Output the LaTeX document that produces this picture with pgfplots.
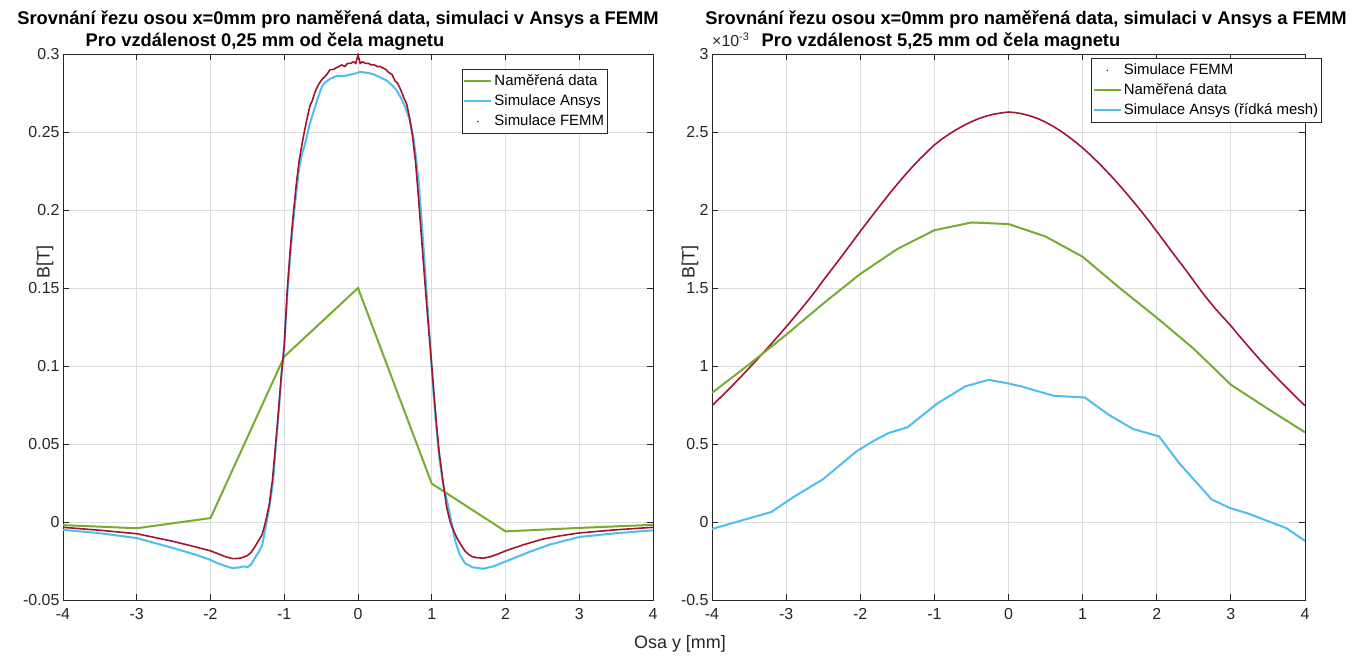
\documentclass[border=0pt]{standalone}
\usepackage{fontspec}
\setmainfont{Liberation Sans}
\usepackage{pgfplots}
\pgfplotsset{compat=1.18}
\definecolor{mgreen}{rgb}{0.466,0.674,0.188}
\definecolor{mblue}{rgb}{0.301,0.745,0.933}
\definecolor{mred}{rgb}{0.635,0.078,0.184}
\definecolor{axgray}{rgb}{0.15,0.15,0.15}
\definecolor{gridgray}{rgb}{0.87,0.87,0.87}
\pgfplotsset{mstyle/.style={
  scale only axis, anchor=south west,
  axis line style={axgray, line width=0.9bp},
  every tick/.style={axgray, line width=0.9bp},
  major tick length=6bp,
  tick align=inside,
  grid=major, major grid style={gridgray, line width=0.9bp},
  tick label style={font=\fontsize{16}{16}\selectfont, text=axgray},
  xticklabel style={yshift=-5bp},
  scaled y ticks=false,
  xmin=-4, xmax=4, xtick={-4,...,4}, xticklabels={-4,-3,-2,-1,0,1,2,3,4},
  legend style={font=\fontsize{15}{18}\selectfont, draw=axgray, line width=0.8bp, fill=white,
    inner xsep=1.5bp, inner ysep=2bp, row sep=0bp,
    nodes={inner sep=2bp, text height=12bp, text depth=4bp}},
  legend cell align=left,
  legend image code/.code={\draw[#1] (0bp,0bp) -- (27bp,0bp);},
  dotlegend/.style={legend image code/.code={\path[draw=none,fill=none] (0bp,0bp) -- (27bp,0bp); \fill[mred, draw=none] (13.5bp,0bp) circle (0.9bp);}},
}}
\begin{document}
\begin{tikzpicture}
\path[use as bounding box] (0bp,0bp) rectangle (1352bp,656bp);
% ---------------- left axis ----------------
\begin{axis}[mstyle, at={(63bp,56bp)}, width=590bp, height=546bp,
  ymin=-0.05, ymax=0.3,
  ytick={-0.05,0,0.05,0.1,0.15,0.2,0.25,0.3},
  yticklabels={-0.05,0,0.05,0.1,0.15,0.2,0.25,0.3},
  legend style={at={(0.9237,0.9725)}, anchor=north east}]
\addplot[mgreen, line width=2bp] coordinates {
(-4,-0.002) (-3,-0.0040) (-2,0.0025) (-1,0.106) (0,0.150) (1,0.0246) (2,-0.0060) (3,-0.0038) (4,-0.0018)};
\addlegendentry{Naměřená data}
\addplot[mblue, line width=2bp] coordinates {
(-4,-0.0050) (-3.5,-0.0072) (-3,-0.0103) (-2.5,-0.0168) (-2.2,-0.0210) (-2.0,-0.0243) (-1.9,-0.0265)
(-1.8,-0.0282) (-1.7,-0.0296) (-1.6,-0.0290) (-1.55,-0.0284) (-1.5,-0.0290) (-1.45,-0.0272)
(-1.4,-0.0232) (-1.35,-0.0195) (-1.3,-0.0150) (-1.25,-0.0030) (-1.2,0.010) (-1.15,0.027)
(-1.12,0.045) (-1.08,0.068) (-1.04,0.093) (-1.00,0.113) (-0.96,0.145) (-0.92,0.170)
(-0.88,0.192) (-0.84,0.210) (-0.80,0.226) (-0.76,0.236) (-0.72,0.242) (-0.66,0.254)
(-0.61,0.262) (-0.55,0.271) (-0.49,0.279) (-0.44,0.282) (-0.38,0.284) (-0.29,0.286)
(-0.18,0.286) (-0.08,0.287) (0.03,0.2885) (0.12,0.288) (0.21,0.287) (0.30,0.285)
(0.39,0.283) (0.46,0.280) (0.52,0.277) (0.58,0.272) (0.64,0.266) (0.70,0.258)
(0.75,0.247) (0.78,0.236) (0.82,0.219) (0.86,0.195) (0.90,0.168) (0.94,0.140)
(0.98,0.112) (1.02,0.085) (1.06,0.062) (1.10,0.042) (1.15,0.025) (1.20,0.015)
(1.25,0.004) (1.32,-0.0124) (1.38,-0.021) (1.45,-0.0264) (1.55,-0.0290) (1.70,-0.0300)
(1.85,-0.0282) (2.0,-0.0253) (2.34,-0.0189) (2.6,-0.0145) (3.0,-0.0096) (3.5,-0.0072) (4,-0.0053)};
\addlegendentry{Simulace Ansys}
\addplot[mred, line width=1.6bp, dotlegend] coordinates {
(-4,-0.0034) (-3.5,-0.0053) (-3,-0.0075) (-2.5,-0.0125) (-2.2,-0.0160) (-2.0,-0.0185)
(-1.9,-0.0203) (-1.8,-0.0222) (-1.7,-0.0235) (-1.65,-0.0234) (-1.6,-0.0232) (-1.55,-0.0225)
(-1.5,-0.0215) (-1.45,-0.0195) (-1.4,-0.0160) (-1.35,-0.0120) (-1.30,-0.0080) (-1.27,-0.0030)
(-1.24,0.003) (-1.20,0.012) (-1.16,0.027) (-1.12,0.048) (-1.08,0.070) (-1.04,0.094)
(-1.00,0.113) (-0.96,0.148) (-0.92,0.174) (-0.88,0.196) (-0.84,0.215) (-0.80,0.231)
(-0.76,0.242) (-0.72,0.252) (-0.68,0.261) (-0.65,0.267) (-0.62,0.270) (-0.58,0.276)
(-0.54,0.280) (-0.50,0.283) (-0.46,0.285) (-0.42,0.287) (-0.38,0.290) (-0.34,0.290)
(-0.30,0.291) (-0.26,0.292) (-0.22,0.293) (-0.18,0.292) (-0.14,0.294) (-0.10,0.294)
(-0.06,0.295) (-0.03,0.294) (0,0.2995) (0.03,0.294) (0.06,0.295) (0.10,0.294)
(0.14,0.294) (0.18,0.293) (0.22,0.293) (0.26,0.292) (0.30,0.292) (0.34,0.291)
(0.38,0.290) (0.42,0.288) (0.46,0.287) (0.50,0.283) (0.54,0.281) (0.58,0.277)
(0.62,0.272) (0.66,0.268) (0.70,0.259) (0.74,0.247) (0.78,0.231) (0.82,0.208)
(0.86,0.183) (0.90,0.158) (0.94,0.134) (0.98,0.112) (1.02,0.088) (1.06,0.065)
(1.10,0.045) (1.15,0.027) (1.20,0.010) (1.25,0.000) (1.30,-0.006) (1.35,-0.011)
(1.40,-0.0150) (1.45,-0.0185) (1.50,-0.0208) (1.55,-0.0222) (1.60,-0.0228) (1.70,-0.0232)
(1.80,-0.0222) (1.90,-0.0205) (2.00,-0.0185) (2.25,-0.0145) (2.50,-0.0110) (2.75,-0.0088)
(3.00,-0.0070) (3.50,-0.0050) (4.00,-0.0034)};
\addlegendentry{Simulace FEMM}
\end{axis}
% ---------------- right axis ----------------
\begin{axis}[mstyle, at={(712bp,56bp)}, width=593bp, height=546bp,
  ymin=-0.5, ymax=3,
  ytick={-0.5,0,0.5,1,1.5,2,2.5,3},
  yticklabels={-0.5,0,0.5,1,1.5,2,2.5,3},
  legend style={at={(1.0287,0.9927)}, anchor=north east}]
\addplot[mred, line width=1.6bp, dotlegend] coordinates {
(-4.0,0.746) (-3.9,0.792) (-3.8,0.839) (-3.7,0.887) (-3.6,0.936) (-3.5,0.986) (-3.4,1.037)
(-3.3,1.089) (-3.2,1.142) (-3.1,1.196) (-3.0,1.251) (-2.9,1.307) (-2.8,1.364) (-2.7,1.422)
(-2.6,1.483) (-2.5,1.548) (-2.4,1.610) (-2.3,1.672) (-2.2,1.735) (-2.1,1.799) (-2.0,1.863)
(-1.9,1.925) (-1.8,1.987) (-1.7,2.048) (-1.6,2.108) (-1.5,2.166) (-1.4,2.222) (-1.3,2.275)
(-1.2,2.325) (-1.1,2.372) (-1.0,2.417) (-0.9,2.454) (-0.8,2.487) (-0.7,2.516) (-0.6,2.543)
(-0.5,2.566) (-0.4,2.586) (-0.3,2.602) (-0.2,2.614) (-0.1,2.622) (0.0,2.628) (0.1,2.624)
(0.2,2.615) (0.3,2.602) (0.4,2.585) (0.5,2.563) (0.6,2.537) (0.7,2.507) (0.8,2.474)
(0.9,2.437) (1.0,2.398) (1.1,2.355) (1.2,2.309) (1.3,2.261) (1.4,2.210) (1.5,2.157)
(1.6,2.102) (1.7,2.045) (1.8,1.987) (1.9,1.926) (2.0,1.863) (2.1,1.799) (2.2,1.735)
(2.3,1.672) (2.4,1.610) (2.5,1.545) (2.6,1.480) (2.7,1.420) (2.8,1.362) (2.9,1.310)
(3.0,1.258) (3.1,1.200) (3.2,1.145) (3.3,1.090) (3.4,1.036) (3.5,0.985) (3.6,0.935)
(3.7,0.886) (3.8,0.838) (3.9,0.791) (4.0,0.746)};
\addlegendentry{Simulace FEMM}
\addplot[mgreen, line width=2bp] coordinates {
(-4,0.828) (-3.5,1.01) (-3,1.20) (-2.5,1.40) (-2,1.59) (-1.5,1.75) (-1,1.87) (-0.5,1.92)
(0,1.91) (0.5,1.83) (1,1.70) (1.5,1.50) (2,1.31) (2.5,1.11) (3,0.88) (3.5,0.725) (4,0.575)};
\addlegendentry{Naměřená data}
\addplot[mblue, line width=2bp] coordinates {
(-4,-0.045) (-3.6,0.010) (-3.2,0.064) (-2.9,0.160) (-2.5,0.275) (-2.05,0.453) (-1.83,0.517)
(-1.62,0.570) (-1.36,0.608) (-0.96,0.760) (-0.58,0.870) (-0.27,0.911) (0.0,0.888)
(0.18,0.868) (0.61,0.809) (1.03,0.798) (1.35,0.688) (1.68,0.596) (2.03,0.549) (2.30,0.379)
(2.74,0.145) (2.98,0.091) (3.24,0.053) (3.75,-0.040) (4,-0.121)};
\addlegendentry{Simulace Ansys (řídká mesh)}
\end{axis}
% ---------------- titles and labels ----------------
\node[anchor=base, font=\bfseries\fontsize{18.4}{20}\selectfont] at (338bp,631bp) {Srovnání řezu osou x=0mm pro naměřená data, simulaci v Ansys a FEMM};
\node[anchor=base, font=\bfseries\fontsize{18.4}{20}\selectfont] at (265bp,609bp) {Pro vzdálenost 0,25 mm od čela magnetu};
\node[anchor=base, font=\bfseries\fontsize{18.4}{20}\selectfont] at (1026bp,631bp) {Srovnání řezu osou x=0mm pro naměřená data, simulaci v Ansys a FEMM};
\node[anchor=base, font=\bfseries\fontsize{18.4}{20}\selectfont] at (941bp,609bp) {Pro vzdálenost 5,25 mm od čela magnetu};
\node[anchor=base west, inner sep=0pt, font=\fontsize{16}{16}\selectfont, text=axgray] at (712bp,609bp) {×10\raisebox{6bp}{\fontsize{11}{11}\selectfont -3}};
\node[rotate=90, font=\fontsize{18}{18}\selectfont, text=axgray] at (45bp,394bp) {B[T]};
\node[rotate=90, font=\fontsize{18}{18}\selectfont, text=axgray] at (690bp,394bp) {B[T]};
\node[anchor=base, font=\fontsize{18}{18}\selectfont, text=axgray] at (680bp,8bp) {Osa y [mm]};
\end{tikzpicture}
\end{document}
